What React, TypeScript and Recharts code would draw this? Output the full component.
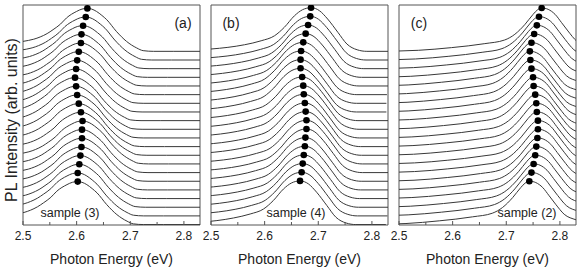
import React from "react";
import {
  ComposedChart,
  Line,
  Scatter,
  XAxis,
  YAxis,
  ReferenceArea,
} from "recharts";

// tick values (eV)
const energyTicks = [2.5, 2.55, 2.6, 2.65, 2.7, 2.75, 2.8];

// line shape of one spectrum per sample, relative to its peak (dE in eV, I in offset units)
const shapeA_dE = [-0.16, -0.12, -0.1, -0.088, -0.075, -0.064, -0.05, -0.039, -0.02, -0.01, 0, 0.008, 0.017, 0.027, 0.036, 0.054, 0.073, 0.092, 0.104, 0.123, 0.16, 0.25];
const shapeA_I = [0.8, 1.15, 1.4, 1.66, 2.05, 2.5, 3.15, 3.85, 4.61, 4.88, 4.96, 4.88, 4.61, 4.15, 3.66, 2.31, 1.15, 0.39, 0.08, 0, 0, 0];

const shapeB_dE = [-0.23, -0.1865, -0.155, -0.124, -0.093, -0.068, -0.05, -0.031, -0.016, -0.008, 0, 0.008, 0.0155, 0.031, 0.05, 0.067, 0.086, 0.104, 0.16];
const shapeB_I = [0.1, 0.27, 0.46, 0.76, 1.22, 1.8, 2.76, 4.1, 4.8, 4.98, 5.04, 4.95, 4.7, 3.73, 2.2, 0.84, 0.18, 0, 0];

const shapeC_dE = [-0.3, -0.266, -0.23, -0.168, -0.106, -0.069, -0.05, -0.031, -0.016, -0.008, 0, 0.006, 0.012, 0.025, 0.037, 0.049, 0.065, 0.087, 0.11];
const shapeC_I = [0.0, 0.04, 0.12, 0.43, 0.89, 1.31, 1.97, 3.12, 4.27, 4.78, 5.0, 4.97, 4.85, 4.27, 3.32, 2.35, 1.19, 0.55, 0.2];

// peak energies (dots), top spectrum first
const peaksA = [2.62, 2.617, 2.612, 2.609, 2.608, 2.604, 2.601, 2.599, 2.597, 2.599, 2.601, 2.604, 2.608, 2.611, 2.61, 2.61, 2.609, 2.607, 2.605, 2.602, 2.602];
const peaksB = [2.6865, 2.685, 2.681, 2.6765, 2.672, 2.668, 2.667, 2.667, 2.67, 2.672, 2.673, 2.675, 2.6765, 2.678, 2.678, 2.676, 2.675, 2.673, 2.671, 2.669, 2.666];
const peaksC = [2.766, 2.761, 2.757, 2.752, 2.747, 2.744, 2.745, 2.747, 2.75, 2.751, 2.754, 2.756, 2.757, 2.759, 2.759, 2.758, 2.756, 2.754, 2.751, 2.747, 2.743];

const panelTags = ["(a)", "(b)", "(c)"];
const sampleNames = ["sample (3)", "sample (4)", "sample (2)"];

const X_DOMAIN: [number, number] = [2.5, 2.83];
const Y_DOMAIN: [number, number] = [-0.05, 25.35];
const FONT = '"Liberation Sans", Arial, sans-serif';
const FRAME = "#555";

function BottomTick(props: any) {
  const { x, y, payload } = props;
  const v = payload.value as number;
  const major = Math.round(v * 100) % 10 === 0;
  return (
    <g>
      <line x1={x} x2={x} y1={y} y2={y - (major ? 4 : 3)} stroke={FRAME} />
      {major && (
        <text x={x} y={y + 15} textAnchor="middle" fontSize={12} fill="#222" fontFamily={FONT}>
          {v.toFixed(1)}
        </text>
      )}
    </g>
  );
}

function TopTick(props: any) {
  const { x, y, payload } = props;
  const major = Math.round((payload.value as number) * 100) % 10 === 0;
  return <line x1={x} x2={x} y1={y} y2={y + (major ? 4 : 3)} stroke={FRAME} />;
}

function Panel({
  left,
  dE,
  inten,
  peaks,
}: {
  left: number;
  dE: number[];
  inten: number[];
  peaks: number[];
}) {
  const n = peaks.length;
  const peakI = inten[dE.indexOf(0)];
  const dots = peaks.map((e, k) => ({ x: e, y: n - 1 - k + peakI }));
  return (
    <div style={{ position: "absolute", left: left - 10, top: 0 }}>
      <ComposedChart width={191} height={267} margin={{ top: 0, right: 4, bottom: 0, left: 10 }}>
        <XAxis
          type="number"
          dataKey="x"
          domain={X_DOMAIN}
          allowDataOverflow
          ticks={energyTicks}
          interval={0}
          height={42}
          tickSize={0}
          tickMargin={0}
          axisLine={false}
          tickLine={false}
          tick={<BottomTick />}
          label={{
            value: "Photon Energy (eV)",
            position: "insideBottom",
            offset: 3,
            fontSize: 14,
            fill: "#222",
            fontFamily: FONT,
          }}
        />
        <XAxis
          xAxisId="top"
          orientation="top"
          type="number"
          domain={X_DOMAIN}
          allowDataOverflow
          ticks={energyTicks}
          interval={0}
          height={5}
          tickSize={0}
          tickMargin={0}
          axisLine={false}
          tickLine={false}
          tick={<TopTick />}
        />
        <YAxis type="number" dataKey="y" domain={Y_DOMAIN} allowDataOverflow hide />
        <ReferenceArea
          x1={X_DOMAIN[0]}
          x2={X_DOMAIN[1]}
          y1={Y_DOMAIN[0]}
          y2={Y_DOMAIN[1]}
          fill="none"
          stroke={FRAME}
          strokeWidth={1}
        />
        {peaks.map((e0, k) => (
          <Line
            key={k}
            data={dE.map((d, j) => ({ x: e0 + d, y: n - 1 - k + inten[j] }))}
            dataKey="y"
            type="monotone"
            stroke="#383838"
            strokeWidth={1}
            dot={false}
            activeDot={false}
            isAnimationActive={false}
          />
        ))}
        <Scatter
          data={dots}
          dataKey="y"
          isAnimationActive={false}
          shape={(p: any) => <circle cx={p.cx} cy={p.cy} r={3.3} fill="#000" />}
        />
      </ComposedChart>
    </div>
  );
}

const textStyle: React.CSSProperties = {
  position: "absolute",
  fontFamily: FONT,
  color: "#222",
  whiteSpace: "nowrap",
};

export default function App() {
  const lefts = [23, 211, 399];
  const tagX = [183, 231, 419];
  const sampleX = [70, 296, 527];
  return (
    <div style={{ position: "absolute", left: 0, top: 0, width: 581, height: 267, background: "#fff", overflow: "hidden" }}>
      <Panel left={lefts[0]} dE={shapeA_dE} inten={shapeA_I} peaks={peaksA} />
      <Panel left={lefts[1]} dE={shapeB_dE} inten={shapeB_I} peaks={peaksB} />
      <Panel left={lefts[2]} dE={shapeC_dE} inten={shapeC_I} peaks={peaksC} />
      {panelTags.map((t, i) => (
        <div key={t} style={{ ...textStyle, left: tagX[i] - 30, width: 60, textAlign: "center", top: 15, fontSize: 14, lineHeight: "16px" }}>
          {t}
        </div>
      ))}
      {sampleNames.map((s, i) => (
        <div key={s} style={{ ...textStyle, left: sampleX[i] - 40, width: 80, textAlign: "center", top: 206, fontSize: 12.5, lineHeight: "15px" }}>
          {s}
        </div>
      ))}
      <div
        style={{
          ...textStyle,
          left: 12 - 100,
          top: 120 - 10,
          width: 200,
          height: 20,
          lineHeight: "20px",
          textAlign: "center",
          fontSize: 16,
          transform: "rotate(-90deg)",
        }}
      >
        PL Intensity (arb. units)
      </div>
    </div>
  );
}
